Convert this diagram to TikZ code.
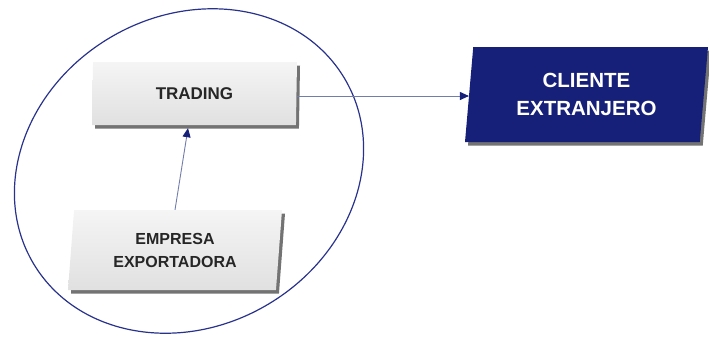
\documentclass[tikz,border=0pt]{standalone}
\usepackage{fontspec}
\setmainfont{Liberation Sans}
\definecolor{NavyFill}{RGB}{22,32,120}
\definecolor{NavyLine}{RGB}{40,50,140}
\definecolor{LinkLine}{RGB}{115,125,170}
\colorlet{BoxText}{black!85}
\usetikzlibrary{shapes.geometric, shadows, arrows.meta}

\tikzset{
  BoxShadow/.style={drop shadow={shadow xshift=3pt, shadow yshift=-3.5pt, fill=black!55, opacity=1}},
  GreyBox/.style={trapezium, trapezium stretches body, inner sep=0pt, align=center,
    top color=gray!8, bottom color=gray!24, text=BoxText, BoxShadow},
  NavyBox/.style={trapezium, trapezium stretches body, inner sep=0pt, align=center,
    fill=NavyFill, text=white, BoxShadow},
  Link/.style={draw=LinkLine, line width=0.9pt,
    -{Triangle[length=9pt, width=8pt, color=NavyFill]}},
}

\begin{document}
\begin{tikzpicture}[x=1pt, y=1pt]
\useasboundingbox (0,0) rectangle (709,-338);

\draw[NavyLine, line width=1.2pt, rotate around={30.8:(189,-171)}]
    (189,-171) ellipse [x radius=181, y radius=155];

\node[GreyBox, trapezium left angle=85, trapezium right angle=95,
      minimum width=205pt, minimum height=63pt,
      font=\fontsize{17}{20}\selectfont\bfseries]
    (trading) at (194.5,-93.5) {TRADING};

\node[GreyBox, trapezium left angle=80, trapezium right angle=100,
      minimum width=214pt, minimum height=80pt,
      font=\fontsize{16}{23}\selectfont\bfseries]
    (empresa) at (175,-250) {EMPRESA\\EXPORTADORA};

\node[NavyBox, trapezium left angle=79, trapezium right angle=101,
      minimum width=243pt, minimum height=95pt,
      font=\fontsize{20.5}{28}\selectfont\bfseries]
    (cliente) at (586.5,-94.5) {CLIENTE\\EXTRANJERO};

\draw[Link] (trading.east |- 0,-96) -- (cliente.west |- 0,-96);
\draw[Link] (empresa.north) -- ([xshift=-6.5pt, yshift=-3pt]trading.south);

\end{tikzpicture}
\end{document}
